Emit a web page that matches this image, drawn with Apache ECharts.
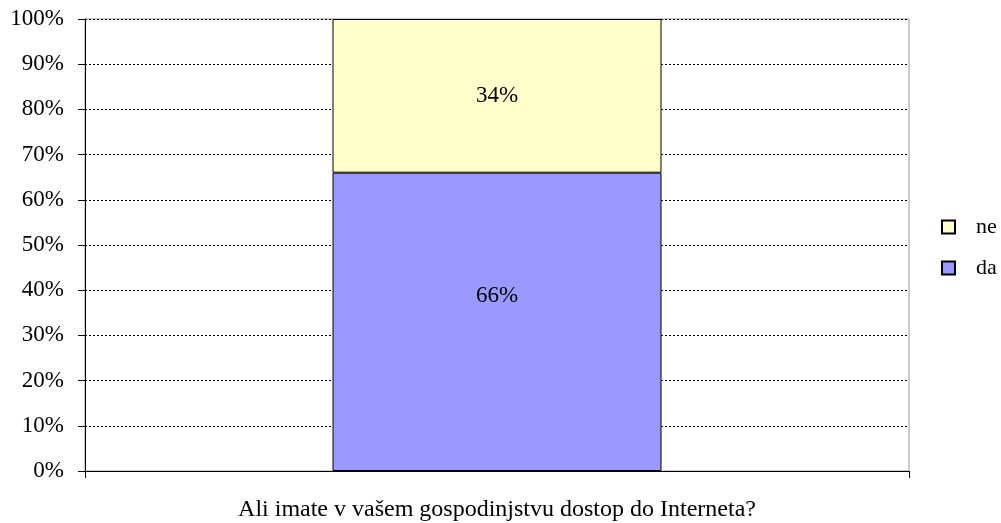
<!DOCTYPE html>
<html>

<head>
  <meta charset="utf-8" />
  <script src="https://cdn.jsdelivr.net/npm/echarts@6/dist/echarts.min.js"></script>
</head>

<body style="margin:0">
  <div id="main" style="width: 1001px;height:523px;"></div>
  <script type="text/javascript">
    var categories = ['Ali imate v vašem gospodinjstvu dostop do Interneta?']
    var da = [66]
    var ne = [34]
    var yTicks = ['0%', '10%', '20%', '30%', '40%', '50%', '60%', '70%', '80%', '90%', '100%']

    var font = 'Liberation Serif'
    var myChart = echarts.init(document.getElementById('main'));

    var option = {
      animation: false,
      textStyle: { fontFamily: font },
      grid: {
        left: 85,
        top: 19,
        right: 92,
        bottom: 52,
        show: true,
        borderColor: '#999',
        borderWidth: 1
      },
      legend: {
        orient: 'vertical',
        left: 936,
        top: 211,
        itemWidth: 13,
        itemHeight: 13,
        itemGap: 19,
        icon: 'rect',
        data: ['ne', 'da'],
        textStyle: { fontFamily: font, fontSize: 22, lineHeight: 20, color: '#000', padding: [0, 0, 0, 16] }
      },
      xAxis: {
        type: 'category',
        data: categories,
        axisLine: { lineStyle: { color: '#000', width: 1 } },
        axisTick: { show: true, length: 7, alignWithLabel: false, lineStyle: { color: '#000' } },
        axisLabel: { fontFamily: font, fontSize: 24, color: '#000', margin: 27 }
      },
      yAxis: {
        type: 'value',
        min: 0,
        max: 100,
        interval: 10,
        axisLine: { show: true, lineStyle: { color: '#000', width: 1 } },
        axisTick: { show: true, length: 7, lineStyle: { color: '#000' } },
        axisLabel: {
          fontFamily: font, fontSize: 23, color: '#000', margin: 21,
          formatter: function (v) { return yTicks[v / 10] }
        },
        splitLine: { lineStyle: { color: '#000', type: [2, 2], width: 1 } }
      },
      series: [
        {
          name: 'da',
          type: 'bar',
          stack: 'a',
          barWidth: 329,
          data: da,
          itemStyle: { color: '#9999ff', borderColor: '#000', borderWidth: 1 },
          label: { show: true, position: 'inside', offset: [0, -26], formatter: '{c}%', fontFamily: font, fontSize: 23, color: '#000' }
        },
        {
          name: 'ne',
          type: 'bar',
          stack: 'a',
          barWidth: 329,
          data: ne,
          itemStyle: { color: '#ffffcc', borderColor: '#000', borderWidth: 1 },
          label: { show: true, position: 'inside', formatter: '{c}%', fontFamily: font, fontSize: 23, color: '#000' }
        }
      ]
    };

    myChart.setOption(option);
  </script>
</body>

</html>
